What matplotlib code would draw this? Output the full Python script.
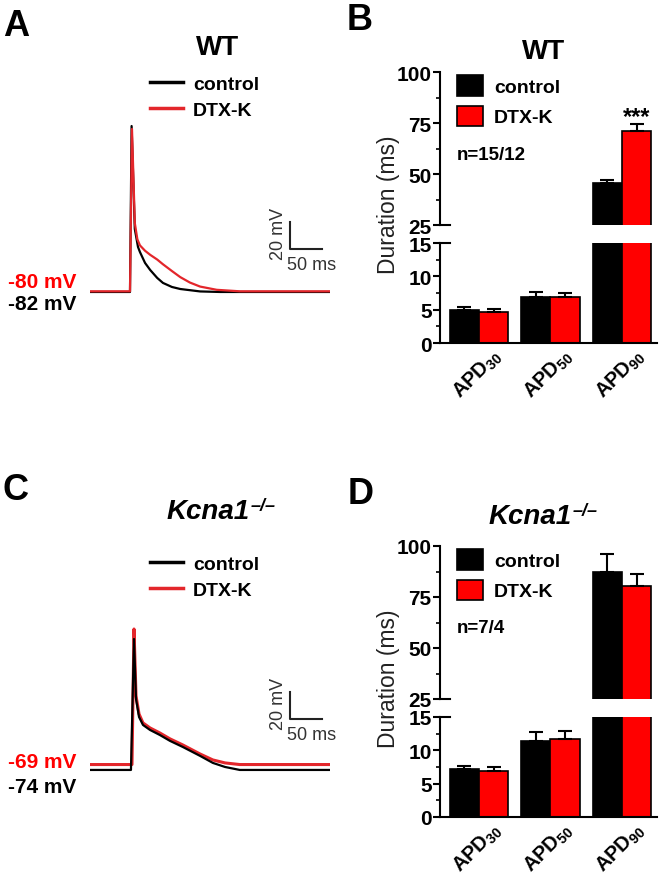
import matplotlib
matplotlib.use('Agg')
import matplotlib.pyplot as plt
import matplotlib.transforms as mtransforms

plt.rcParams['font.family'] = ['Liberation Sans', 'DejaVu Sans']
plt.rcParams['font.weight'] = 'bold'
plt.rcParams['mathtext.fontset'] = 'custom'
plt.rcParams['mathtext.rm'] = 'Liberation Sans:bold'
plt.rcParams['mathtext.it'] = 'Liberation Sans:italic:bold'
plt.rcParams['mathtext.bf'] = 'Liberation Sans:bold'

W, H = 659, 878
RED = '#ff0000'
TRACE_RED = '#e3262b'

#A/ WT action potentials, time (ms) and voltage (mV)
wt_ctrl_t = [0, 62.5, 65, 70, 75, 78, 86, 94, 105, 114, 128, 141, 172, 203, 375]
wt_ctrl_v = [-82, -82, 40.8, -35.4, -48.7, -52.4, -60.5, -65.7, -71.6, -75.3, -78.3, -79.8, -81.6, -82, -82]
wt_dtx_t = [0, 62.5, 65.6, 70, 74, 78, 86, 94, 105, 114, 128, 141, 156, 172, 198, 234, 375]
wt_dtx_v = [-81.5, -81.5, 38.6, -31, -43, -47.5, -51.5, -54.5, -58, -61.5, -66.5, -71, -75, -78, -80.4, -81.5, -81.5]

#C/ Kcna1-/- action potentials
ko_ctrl_t = [0, 64, 68.75, 71.9, 76.6, 82.8, 93.75, 109, 125, 145, 172, 192, 211, 234, 375]
ko_ctrl_v = [-74, -74, 22.9, -21.5, -34.8, -40.7, -44.4, -48.1, -52.5, -57, -63.6, -68.8, -71.8, -74, -74]
ko_dtx_t = [0, 65.6, 68.75, 71.9, 76.6, 82.8, 93.75, 109, 125, 145, 172, 192, 211, 234, 375]
ko_dtx_v = [-70, -70, 30.3, -19.2, -32.6, -39.2, -42.9, -46.6, -51, -55.5, -62.2, -66.6, -68.8, -70, -70]

#B/D/ APD bars (ms), mean and SEM
apd_labels = ['APD$_{30}$', 'APD$_{50}$', 'APD$_{90}$']
wt_ctrl = [4.9, 6.9, 45.5]
wt_ctrl_err = [0.5, 0.7, 1.8]
wt_dtx = [4.65, 6.9, 71.3]
wt_dtx_err = [0.45, 0.6, 3.0]
ko_ctrl = [7.2, 11.4, 87.3]
ko_ctrl_err = [0.5, 1.3, 9.0]
ko_dtx = [6.95, 11.7, 80.5]
ko_dtx_err = [0.5, 1.2, 6.0]


def fx(x):
    return x / W


def fy(y):
    return 1 - y / H


fig = plt.figure(figsize=(W / 100, H / 100), dpi=100)


def trace_panel(top, ylim, ctrl_t, ctrl_v, dtx_t, dtx_v, red_on_top, bar_v):
    ax = fig.add_axes([fx(90), fy(top + 210), 240 / W, 210 / H])
    ax.set_xlim(0, 375)
    ax.set_ylim(*ylim)
    ax.axis('off')
    if red_on_top:
        l1, = ax.plot(ctrl_t, ctrl_v, color='black', lw=1.6)
        l2, = ax.plot(dtx_t, dtx_v, color=TRACE_RED, lw=1.6)
    else:
        l2, = ax.plot(dtx_t, dtx_v, color=TRACE_RED, lw=2.2)
        l1, = ax.plot(ctrl_t, ctrl_v, color='black', lw=1.6)
    leg = ax.legend([l1, l2], ['control', 'DTX-K'], loc='upper left',
                    bbox_to_anchor=(fx(150), fy(top - 24)), bbox_transform=fig.transFigure,
                    frameon=False, fontsize=14, handlelength=1.7, handletextpad=0.5,
                    labelspacing=0.45, borderpad=0, borderaxespad=0)
    for ln in leg.get_lines():
        ln.set_linewidth(2.5)
    # scale bar 20 mV / 50 ms
    t0 = 312.5
    ax.plot([t0, t0, t0 + 50], [bar_v + 20, bar_v, bar_v], color='#222', lw=1.5, clip_on=False)
    ax.text(t0 - 18, bar_v + 12, '20 mV', rotation=90, ha='center', va='center',
            fontsize=13, fontweight='normal', color='#333')
    ax.text(t0 - 5, bar_v - 5, '50 ms', ha='left', va='top',
            fontsize=13, fontweight='normal', color='#333')
    return ax


def bar_panel(top, ctrl, ctrl_err, dtx, dtx_err, n_text, stars):
    x0, x1 = 440, 657
    up = fig.add_axes([fx(x0), fy(top + 153), (x1 - x0) / W, 153 / H])
    lo = fig.add_axes([fx(x0), fy(top + 271), (x1 - x0) / W, 100 / H])
    pos = [0, 1, 2]
    bw = 0.41
    for ax, lim in ((up, (25, 100)), (lo, (0, 15))):
        b1 = ax.bar([p - bw / 2 for p in pos], ctrl, bw, color='black', edgecolor='black', lw=1.2)
        b2 = ax.bar([p + bw / 2 for p in pos], dtx, bw, color=RED, edgecolor='black', lw=1.2)
        ax.errorbar([p - bw / 2 for p in pos], ctrl, yerr=[[0, 0, 0], ctrl_err], fmt='none',
                    ecolor='black', capsize=5, elinewidth=1.5, capthick=1.5)
        ax.errorbar([p + bw / 2 for p in pos], dtx, yerr=[[0, 0, 0], dtx_err], fmt='none',
                    ecolor='black', capsize=5, elinewidth=1.5, capthick=1.5)
        ax.set_xlim(-0.545, 2.49)
        ax.set_ylim(*lim)
        for s in ['top', 'right']:
            ax.spines[s].set_visible(False)
        for s in ['left', 'bottom']:
            ax.spines[s].set_linewidth(1.5)
        ax.tick_params(axis='y', which='major', length=5, width=1.5, labelsize=15, pad=1)
        ax.tick_params(axis='y', which='minor', length=3, width=1.2)
        # break mark: tick crossing the axis at the cut
        blend = mtransforms.blended_transform_factory(ax.transAxes, ax.transData)
        ax.plot([0, 0.045], [lim[0] if ax is up else lim[1]] * 2, transform=blend,
                color='black', lw=1.5, clip_on=False)
    up.spines['bottom'].set_visible(False)
    up.set_xticks([])
    up.set_yticks([25, 50, 75, 100])
    up.set_yticks([37.5, 62.5, 87.5], minor=True)
    lo.set_yticks([0, 5, 10, 15])
    lo.set_yticks([2.5, 7.5, 12.5], minor=True)
    lo.set_xticks(pos)
    lo.set_xticklabels(apd_labels, rotation=45, ha='right', va='top', rotation_mode='anchor', fontsize=14.5)
    lo.tick_params(axis='x', length=0, pad=1)
    shift = mtransforms.ScaledTranslation(0.12, 0, fig.dpi_scale_trans)
    for lab in lo.get_xticklabels():
        lab.set_transform(lab.get_transform() + shift)
    up.legend([b1, b2], ['control', 'DTX-K'], loc='upper left',
              bbox_to_anchor=(fx(457), fy(top + 3)), bbox_transform=fig.transFigure,
              frameon=False, fontsize=14, handlelength=1.35, handleheight=1.25,
              handletextpad=0.55, labelspacing=0.5, borderpad=0, borderaxespad=0)
    fig.text(fx(457), fy(top + 82), n_text, fontsize=13.5, va='center', ha='left')
    if stars:
        up.text(2 + bw / 2, dtx[2] + dtx_err[2] + 4, '***', ha='center', va='center', fontsize=17)
    fig.text(fx(388), fy(top + 132), 'Duration (ms)', rotation=90, ha='center', va='center',
             fontsize=16.5, fontweight='normal', color='#222')


#Panel A
trace_panel(100, (-94.6, 60.8), wt_ctrl_t, wt_ctrl_v, wt_dtx_t, wt_dtx_v, True, -50.2)
fig.text(fx(8), fy(283), '-80 mV', color=RED, fontsize=15, va='center')
fig.text(fx(8), fy(304), '-82 mV', color='black', fontsize=15, va='center')

#Panel C
trace_panel(580, (-88.1, 67.3), ko_ctrl_t, ko_ctrl_v, ko_dtx_t, ko_dtx_v, False, -36.3)
fig.text(fx(8), fy(763), '-69 mV', color=RED, fontsize=15, va='center')
fig.text(fx(8), fy(788), '-74 mV', color='black', fontsize=15, va='center')

#Panels B and D
bar_panel(73, wt_ctrl, wt_ctrl_err, wt_dtx, wt_dtx_err, 'n=15/12', True)
bar_panel(547, ko_ctrl, ko_ctrl_err, ko_dtx, ko_dtx_err, 'n=7/4', False)

#Titles and panel letters
fig.text(fx(218), fy(48), 'WT', fontsize=20, ha='center', va='center')
fig.text(fx(544), fy(52), 'WT', fontsize=20, ha='center', va='center')
for x, y in [(208, 512), (530, 517)]:
    t = fig.text(fx(x), fy(y), 'Kcna1', fontsize=20, ha='center', va='center', style='italic')
    plt.annotate('–/–', xy=(1, 1), xycoords=t, xytext=(1, 1), textcoords='offset points',
                 fontsize=13, style='italic', ha='left', va='top')
for letter, x, y in [('A', 16, 26), ('B', 360, 20), ('C', 15, 491), ('D', 361, 495)]:
    fig.text(fx(x), fy(y), letter, fontsize=26, ha='center', va='center')

fig.savefig('out.png', dpi=100)
